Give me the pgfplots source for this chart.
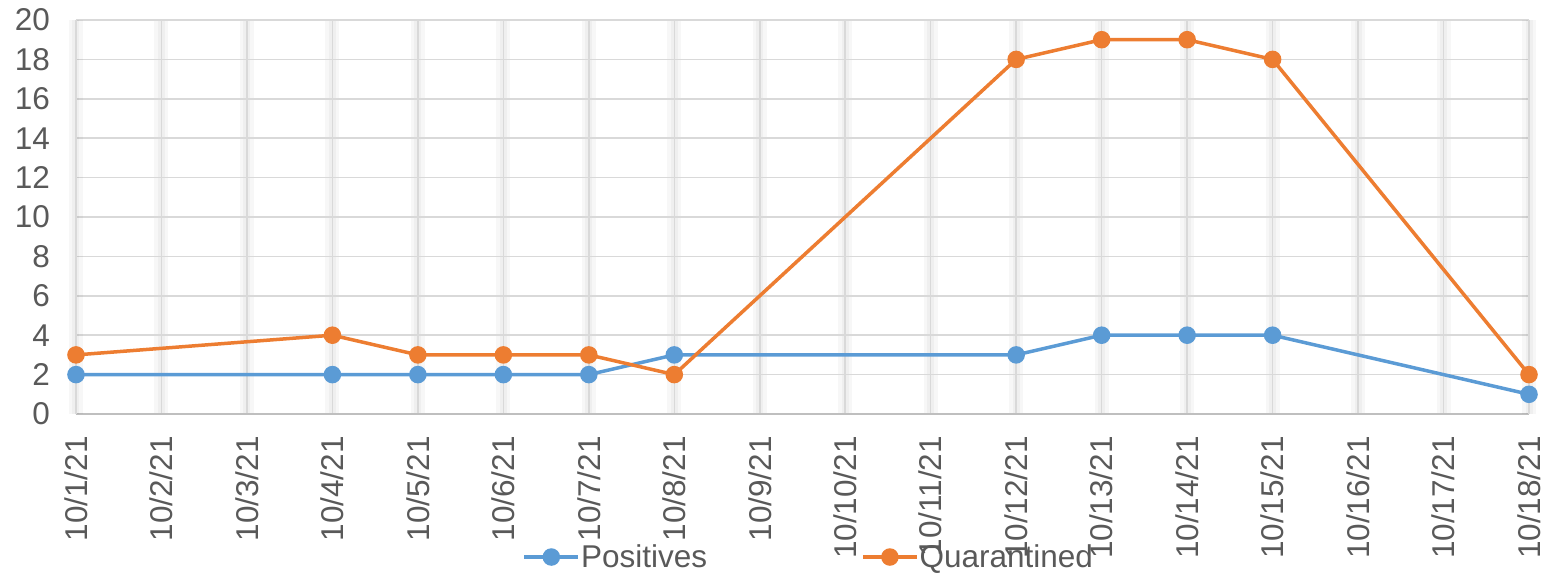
\documentclass[border=0pt]{standalone}
\usepackage{pgfplots}
\pgfplotsset{compat=1.18}
\usepackage{fontspec}
\setmainfont{Liberation Sans}
\definecolor{txt}{HTML}{595959}
\definecolor{gridc}{HTML}{D9D9D9}
\definecolor{axc}{HTML}{BFBFBF}
\definecolor{cblue}{HTML}{5B9BD5}
\definecolor{corange}{HTML}{ED7D31}
\begin{document}
\begin{tikzpicture}
\useasboundingbox (-76bp,-161bp) rectangle (1475bp,414bp);
\begin{axis}[
  at={(0,0)}, anchor=south west,
  scale only axis,
  width=1453bp, height=394bp,
  xmin=0, xmax=17, ymin=0, ymax=20,
  xtick={1,...,16},
  xticklabels={10/2/21,10/3/21,10/4/21,10/5/21,10/6/21,10/7/21,10/8/21,10/9/21,10/10/21,10/11/21,10/12/21,10/13/21,10/14/21,10/15/21,10/16/21,10/17/21},
  extra x ticks={0,17},
  extra x tick labels={10/1/21,10/18/21},
  extra x tick style={grid style={draw=gridc, line width=1.5bp}},
  ytick={0,2,...,20},
  xmajorgrids, ymajorgrids,
  y grid style={draw=gridc, line width=1.5bp},
  x grid style={draw=gridc, line width=1.5bp,
    preaction={draw=black, draw opacity=0.03, line width=14bp},
    preaction={draw=black, draw opacity=0.03, line width=7bp}},
  axis x line*=bottom, axis y line*=left,
  axis line style={draw=axc, line width=1.5bp, -},
  major tick length=0pt,
  /pgf/number format/assume math mode=true,
  tick label style={font=\fontsize{31.5bp}{36bp}\selectfont, text=txt},
  xticklabel style={rotate=90, anchor=east, inner sep=0pt},
  xticklabel shift=22bp,
  yticklabel style={anchor=east, inner sep=0pt},
  yticklabel shift=26bp,
  legend columns=2,
  legend style={draw=none, fill=none, font=\fontsize{31.5bp}{36bp}\selectfont, text=txt,
    at={(0.504,-0.363)}, anchor=center,
    /tikz/every even column/.append style={column sep=153bp},
    nodes={inner sep=1bp}},
  legend image code/.code={\draw[mark repeat=2,mark phase=2,#1] plot coordinates {(0bp,0bp) (27bp,0bp) (54bp,0bp)};},
  every axis plot/.append style={line width=3.5bp, mark=*, mark size=7bp, mark options={solid}},
]
\addplot[color=cblue] coordinates {
 (0,2) (3,2) (4,2) (5,2) (6,2) (7,3) (11,3) (12,4) (13,4) (14,4) (17,1)};
\addlegendentry{Positives}
\addplot[color=corange] coordinates {
 (0,3) (3,4) (4,3) (5,3) (6,3) (7,2) (11,18) (12,19) (13,19) (14,18) (17,2)};
\addlegendentry{Quarantined}
\end{axis}
\end{tikzpicture}
\end{document}
